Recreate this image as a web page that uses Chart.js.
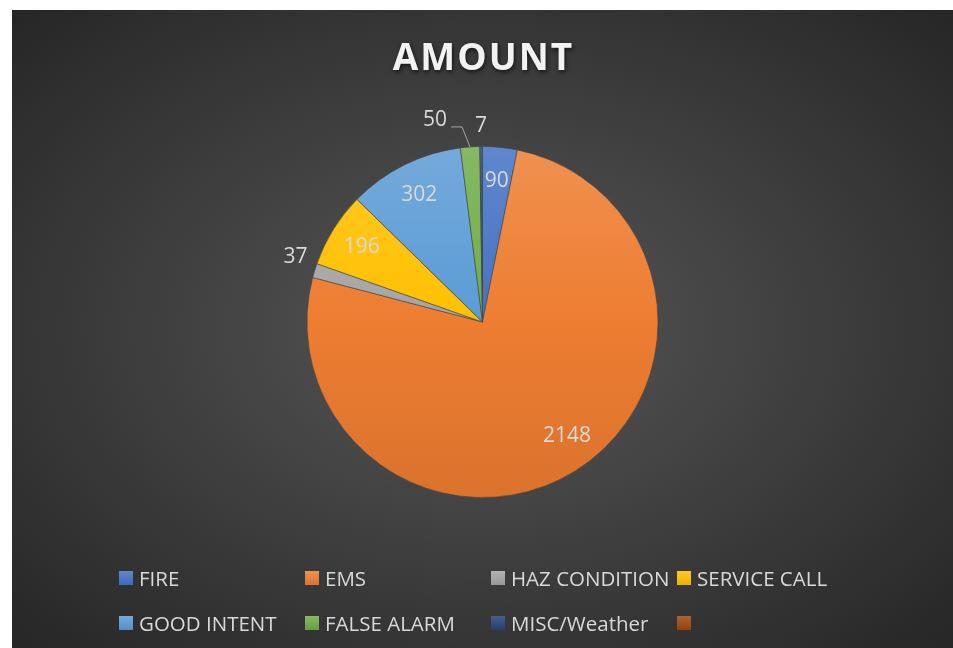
<!DOCTYPE html>
<html>
<head>
<meta charset="utf-8">
<script src="https://cdn.jsdelivr.net/npm/chart.js@4"></script>
<style>
  body { margin: 0; background: #fff; }
  #wrap {
    position: absolute; left: 12px; top: 10px; width: 941px; height: 638px;
    background: radial-gradient(ellipse farthest-corner at 50% 50%, #575757 0%, #3c3c3c 55%, #262626 100%);
    overflow: hidden;
  }
  #wrap canvas { position: absolute; left: 0; top: 0; }
  #legend {
    position: absolute; left: 107px; top: 556px; width: 760px;
    display: grid; grid-template-columns: repeat(4, 186px); row-gap: 21px;
    font-family: "Open Sans", sans-serif; font-size: 20.5px; color: #d9d9d9;
  }
  #legend .item { display: flex; align-items: center; height: 24px; white-space: nowrap; }
  #legend .box { width: 14px; height: 14px; margin-right: 6px; flex: none; }
</style>
</head>
<body>
<div id="wrap">
  <canvas id="amountChart" width="941" height="638"></canvas>
  <div id="legend"></div>
</div>
<script>
const chartTitle = 'AMOUNT';
const categories = ['FIRE', 'EMS', 'HAZ CONDITION', 'SERVICE CALL', 'GOOD INTENT', 'FALSE ALARM', 'MISC/Weather', ''];
const amounts = [90, 2148, 37, 196, 302, 50, 7, null];
const colors = ['#4472C4', '#ED7D31', '#A5A5A5', '#FFC000', '#5B9BD5', '#70AD47', '#264478', '#9E480E'];

// where each value label goes: inside the slice, outside it, or outside with a leader line
const placement = ['in', 'in', 'out', 'in', 'in', 'callout', 'out', 'none'];

function shade(hex, f) {
  const n = parseInt(hex.slice(1), 16);
  let r = n >> 16, g = (n >> 8) & 255, b = n & 255;
  const t = f > 0 ? 255 : 0, p = Math.abs(f);
  r = Math.round(r + (t - r) * p);
  g = Math.round(g + (t - g) * p);
  b = Math.round(b + (t - b) * p);
  return `rgb(${r},${g},${b})`;
}

function sliceFill(context) {
  const base = colors[context.dataIndex];
  const area = context.chart.chartArea;
  if (!area) return base;
  const g = context.chart.ctx.createLinearGradient(0, area.top, 0, area.bottom);
  g.addColorStop(0, shade(base, 0.15));
  g.addColorStop(0.5, base);
  g.addColorStop(1, shade(base, -0.08));
  return g;
}

const titlePlugin = {
  id: 'titlePlugin',
  afterDraw(chart) {
    const { ctx } = chart;
    ctx.save();
    ctx.font = 'bold 37px "Open Sans"';
    ctx.letterSpacing = '2px';
    ctx.textAlign = 'center';
    ctx.textBaseline = 'middle';
    ctx.shadowColor = 'rgba(0,0,0,0.65)';
    ctx.shadowBlur = 4;
    ctx.shadowOffsetX = 1;
    ctx.shadowOffsetY = 2;
    ctx.fillStyle = '#f2f2f2';
    ctx.fillText(chartTitle, chart.width / 2 + 1, 49);
    ctx.restore();
  }
};

const sliceLabels = {
  id: 'sliceLabels',
  afterDatasetsDraw(chart) {
    const { ctx } = chart;
    const meta = chart.getDatasetMeta(0);
    ctx.save();
    ctx.font = '21px "Open Sans"';
    ctx.fillStyle = '#d9d9d9';
    ctx.textBaseline = 'middle';
    meta.data.forEach((arc, i) => {
      const v = amounts[i];
      if (v == null || placement[i] === 'none') return;
      const { x, y, startAngle, endAngle, outerRadius } =
        arc.getProps(['x', 'y', 'startAngle', 'endAngle', 'outerRadius'], true);
      // the big slice label sits a bit ahead of its mid angle, like Excel's best fit
      const mid = (startAngle + endAngle) / 2 - (i === 1 ? 0.08 : 0);
      const cos = Math.cos(mid), sin = Math.sin(mid);
      const label = String(v);
      if (placement[i] === 'in') {
        ctx.textAlign = 'center';
        ctx.fillText(label, x + cos * outerRadius * 0.81, y + sin * outerRadius * 0.81);
      } else if (placement[i] === 'out') {
        const w = ctx.measureText(label).width;
        const px = x + cos * (outerRadius + 8), py = y + sin * (outerRadius + 8);
        const cx = px + cos * w / 2, cy = py + sin * 12 - (Math.abs(cos) > 0.5 ? 8 : 0);
        ctx.textAlign = 'center';
        ctx.fillText(label, cx, cy);
      } else {
        const ax = x + cos * outerRadius, ay = y + sin * outerRadius;
        ctx.strokeStyle = '#a6a6a6';
        ctx.lineWidth = 1;
        ctx.beginPath();
        ctx.moveTo(ax, ay);
        ctx.lineTo(ax - 8, ay - 20);
        ctx.lineTo(ax - 19, ay - 20);
        ctx.stroke();
        ctx.textAlign = 'right';
        ctx.fillText(label, ax - 23, ay - 27);
      }
    });
    ctx.restore();
  }
};

const ctx = document.getElementById('amountChart').getContext('2d');
const amountChart = new Chart(ctx, {
  type: 'pie',
  data: {
    labels: categories,
    datasets: [{
      data: amounts,
      backgroundColor: sliceFill,
      borderColor: 'rgba(70,70,70,0.6)',
      borderWidth: 1
    }]
  },
  options: {
    responsive: false,
    animation: false,
    layout: { padding: { top: 136, bottom: 150 } },
    plugins: {
      legend: { display: false },
      tooltip: { enabled: false }
    }
  },
  plugins: [sliceLabels, titlePlugin]
});

// legend in a fixed 4-column grid like the original
const legendEl = document.getElementById('legend');
categories.forEach((name, i) => {
  const item = document.createElement('div');
  item.className = 'item';
  const box = document.createElement('span');
  box.className = 'box';
  box.style.background = `linear-gradient(${shade(colors[i], 0.15)}, ${shade(colors[i], -0.08)})`;
  const text = document.createElement('span');
  text.textContent = name;
  item.appendChild(box);
  item.appendChild(text);
  legendEl.appendChild(item);
});
</script>
</body>
</html>
